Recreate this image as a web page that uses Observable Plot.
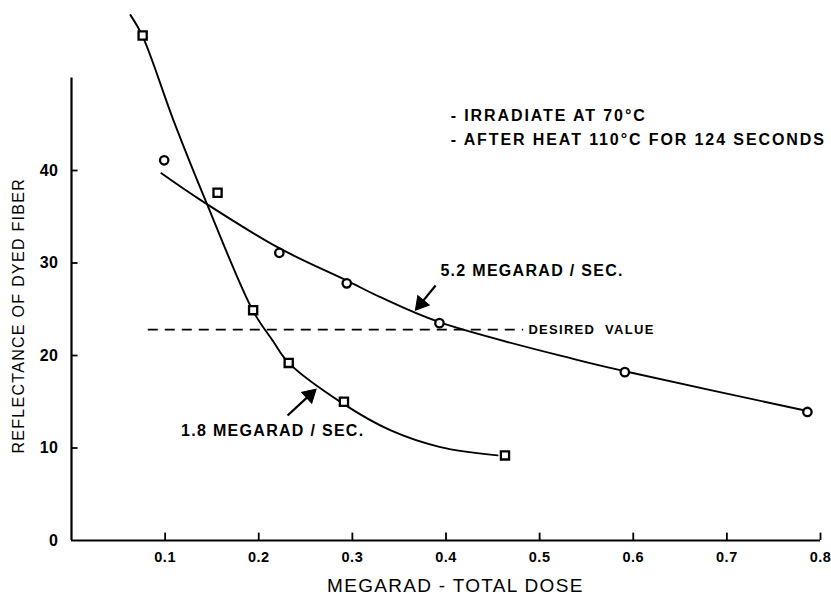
<!DOCTYPE html>
<html><head><meta charset="utf-8">
<script src="https://cdn.jsdelivr.net/npm/d3@7"></script>
<script src="https://cdn.jsdelivr.net/npm/@observablehq/plot@0.6"></script>
<style>
body{margin:0;background:#fff;}
svg{font-family:"Liberation Sans",sans-serif;}
</style>
</head><body><div id="chart"></div>
<script>
// 1.8 megarad/sec (squares)
const sqDose = [0.076, 0.156, 0.194, 0.232, 0.291, 0.463];
const sqRefl = [54.6, 37.6, 24.9, 19.2, 15.0, 9.2];
// 5.2 megarad/sec (circles)
const ciDose = [0.099, 0.222, 0.294, 0.393, 0.591, 0.786];
const ciRefl = [41.1, 31.1, 27.8, 23.5, 18.2, 13.9];
// fitted curves
const c18Dose = [0.063, 0.076, 0.109, 0.143, 0.194, 0.215, 0.232, 0.290, 0.341, 0.394, 0.455];
const c18Refl = [56.8, 54.5, 45.4, 36.8, 24.8, 21.6, 19.2, 14.8, 11.9, 10.1, 9.2];
const c52Dose = [0.096, 0.138, 0.222, 0.294, 0.330, 0.393, 0.541, 0.591, 0.786];
const c52Refl = [39.7, 36.8, 31.6, 28.1, 26.3, 23.6, 19.5, 18.3, 14.0];
// desired value
const desiredValue = 22.8;
const desiredFrom = 0.082, desiredTo = 0.483;
// ticks
const xTicks = [0.1, 0.2, 0.3, 0.4, 0.5, 0.6, 0.7, 0.8];
const yTicks = [0, 10, 20, 30, 40];
const notes = ["- IRRADIATE AT 70°C", "- AFTER HEAT 110°C FOR 124 SECONDS"];
const noteRefl = [45.9, 43.3];

const zip = (a, b) => a.map((v, i) => ({x: v, y: b[i]}));
const sq = zip(sqDose, sqRefl), ci = zip(ciDose, ciRefl);
const c18 = zip(c18Dose, c18Refl), c52 = zip(c52Dose, c52Refl);

const bold = {fontFamily: "Liberation Sans", fontWeight: "bold", fill: "black"};

// annotation arrows: shaft + solid head
const arrows = [
  {x1: 0.3889, y1: 27.57, x2: 0.3731, y2: 25.61, rot: 219.3},
  {x1: 0.2308, y1: 13.51, x2: 0.2546, y2: 15.74, rot: 47.3}
];

const chart = Plot.plot({
  width: 831, height: 603,
  marginLeft: 71, marginRight: 11, marginTop: 0, marginBottom: 63,
  x: {domain: [0, 0.8], axis: null},
  y: {domain: [0, 58.38], axis: null},
  style: {background: "white", color: "black", overflow: "visible"},
  marks: [
    Plot.axisX(xTicks, {tickSize: 0, tickPadding: 11, fontSize: 14.5, fontWeight: "bold", tickFormat: d => d.toFixed(1), className: "ticklab"}),
    Plot.axisY(yTicks, {tickSize: 0, tickPadding: 13, fontSize: 16, fontWeight: "bold", className: "ticklab"}),
    Plot.ruleY([0], {x1: 0, x2: 0.8, strokeWidth: 2.2}),
    Plot.ruleX([0], {y1: 0, y2: 50, strokeWidth: 2.2}),
    Plot.ruleX(xTicks, {x: d => d, y1: 0, y2: 0.8, strokeWidth: 1.8}),
    Plot.ruleY(yTicks.slice(1), {y: d => d, x1: 0, x2: 0.007, strokeWidth: 1.8}),
    Plot.ruleY([desiredValue], {x1: desiredFrom, x2: desiredTo, strokeWidth: 1.8, strokeDasharray: "10,7"}),
    Plot.line(c18, {x: "x", y: "y", curve: "catmull-rom", strokeWidth: 1.9}),
    Plot.line(c52, {x: "x", y: "y", curve: "catmull-rom", strokeWidth: 1.9}),
    Plot.dot(sq, {x: "x", y: "y", symbol: "square", r: 4.6, fill: "white", stroke: "black", strokeWidth: 2.3}),
    Plot.dot(ci, {x: "x", y: "y", symbol: "circle", r: 4.2, fill: "white", stroke: "black", strokeWidth: 2.3}),
    Plot.link(arrows, {x1: "x1", y1: "y1", x2: "x2", y2: "y2", strokeWidth: 2.2}),
    Plot.dot(arrows, {x: "x2", y: "y2", symbol: "triangle", r: 5.5, rotate: "rot", fill: "black", stroke: "black", strokeWidth: 1}),
    Plot.text(["5.2 MEGARAD / SEC."], {x: 0.394, y: 29.2, text: d => d, textAnchor: "start", fontSize: 16, ...bold}),
    Plot.text(["1.8 MEGARAD / SEC."], {x: 0.117, y: 11.8, text: d => d, textAnchor: "start", fontSize: 16, ...bold}),
    Plot.text(["DESIRED  VALUE"], {x: 0.488, y: desiredValue, text: d => d, textAnchor: "start", fontSize: 13, ...bold}),
    Plot.text(notes, {x: 0.405, y: (d, i) => noteRefl[i], text: d => d, textAnchor: "start", fontSize: 16, ...bold, className: "notes"}),
    Plot.text(["MEGARAD - TOTAL DOSE"], {x: 0.41, y: -4.9, text: d => d, fontSize: 19, fontFamily: "Liberation Sans", fill: "black"}),
    Plot.text(["REFLECTANCE OF DYED FIBER"], {x: -0.0566, y: 24.3, text: d => d, rotate: -90, fontSize: 16, fontFamily: "Liberation Sans", fill: "black"})
  ]
});
// letter spacing for hand-lettered look
d3.select(chart).selectAll("text").style("letter-spacing", "1.3px");
d3.select(chart).selectAll(".ticklab text").style("letter-spacing", "0.5px");
d3.select(chart).selectAll(".notes text").style("letter-spacing", "1.9px");
document.getElementById("chart").appendChild(chart);
</script></body></html>
